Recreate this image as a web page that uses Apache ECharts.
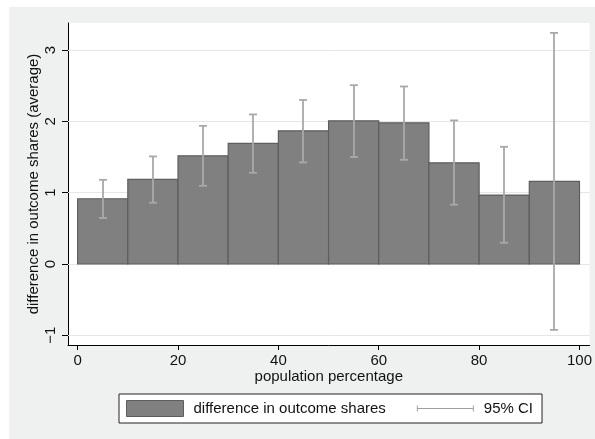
<!DOCTYPE html>
<html>
<head>
<meta charset="utf-8">
<script src="https://cdn.jsdelivr.net/npm/echarts@6/dist/echarts.min.js"></script>
<style>
html,body{margin:0;padding:0;background:#fff;}
#chart{width:595px;height:439px;}
</style>
</head>
<body>
<div id="chart"></div>
<script>
// ---- data ----
const binLower = [0, 10, 20, 30, 40, 50, 60, 70, 80, 90];
const binUpper = [10, 20, 30, 40, 50, 60, 70, 80, 90, 100];
const meanDiff = [0.915, 1.186, 1.517, 1.690, 1.867, 2.007, 1.979, 1.419, 0.966, 1.158];
const ciLower  = [0.644, 0.859, 1.097, 1.279, 1.424, 1.499, 1.461, 0.831, 0.298, -0.924];
const ciUpper  = [1.180, 1.508, 1.937, 2.097, 2.300, 2.507, 2.489, 2.013, 1.643, 3.240];
const xTicks = [0, 20, 40, 60, 80, 100];
const yTicks = [-1, 0, 1, 2, 3];
const xTitle = 'population percentage';
const yTitle = 'difference in outcome shares (average)';
const barName = 'difference in outcome shares';
const ciName = '95% CI';

// ---- styles ----
const FONT = 'Liberation Sans, Arial, Helvetica, sans-serif';
const FS = 15;
const BAR_FILL = '#808080';
const BAR_EDGE = '#5e5e5e';
const CI_COLOR = '#a9a9a9';
const TEXT = '#111';

const barData = binLower.map((l, i) => [l, binUpper[i], meanDiff[i]]);
const ciData = binLower.map((l, i) => [(l + binUpper[i]) / 2, ciLower[i], ciUpper[i]]);

function renderBar(params, api) {
  const p0 = api.coord([api.value(0), api.value(2)]);
  const p1 = api.coord([api.value(1), 0]);
  return {
    type: 'rect',
    shape: { x: p0[0], y: Math.min(p0[1], p1[1]), width: p1[0] - p0[0], height: Math.abs(p1[1] - p0[1]) },
    style: { fill: BAR_FILL, stroke: BAR_EDGE, lineWidth: 1.2 }
  };
}

function renderCI(params, api) {
  const lo = api.coord([api.value(0), api.value(1)]);
  const hi = api.coord([api.value(0), api.value(2)]);
  const x = Math.round(lo[0]);
  const hw = 4;
  const st = { stroke: CI_COLOR, lineWidth: 1.8 };
  return {
    type: 'group',
    children: [
      { type: 'line', shape: { x1: x, y1: lo[1], x2: x, y2: hi[1] }, style: st },
      { type: 'line', shape: { x1: x - hw, y1: lo[1], x2: x + hw, y2: lo[1] }, style: st },
      { type: 'line', shape: { x1: x - hw, y1: hi[1], x2: x + hw, y2: hi[1] }, style: st }
    ]
  };
}

const fmtMinus = v => String(v).replace('-', '\u2212');

const chart = echarts.init(document.getElementById('chart'), null, { renderer: 'canvas' });
chart.setOption({
  animation: false,
  backgroundColor: '#fff',
  textStyle: { fontFamily: FONT },
  graphic: {
    elements: [
      { type: 'rect', z: -100, silent: true, shape: { x: 9, y: 7, width: 586, height: 432 }, style: { fill: '#eff1f1' } }
    ]
  },
  grid: {
    left: 68, right: 3, top: 23, bottom: 94,
    show: true, backgroundColor: '#fff', borderWidth: 0, containLabel: false
  },
  legend: {
    left: 119, top: 394,
    padding: [6, 9, 6, 7],
    itemWidth: 57, itemHeight: 16, itemGap: 31,
    backgroundColor: '#fff', borderColor: '#222', borderWidth: 1, borderRadius: 0,
    textStyle: { fontFamily: FONT, fontSize: FS, color: TEXT, padding: [0, 0, 0, 5] },
    selectedMode: false,
    data: [
      { name: barName, icon: 'rect', itemStyle: { color: BAR_FILL, borderColor: BAR_EDGE, borderWidth: 1 } },
      { name: ciName, icon: 'path://M0,0 M57,16 M0,5 L1,5 L1,11 L0,11 Z M0,7.5 L57,7.5 L57,8.5 L0,8.5 Z M56,5 L57,5 L57,11 L56,11 Z',
        itemStyle: { color: '#a0a0a0', borderWidth: 0 } }
    ]
  },
  xAxis: {
    type: 'value', min: -1.92, max: 102,
    name: xTitle, nameLocation: 'middle', nameGap: 24, nameMoveOverlap: false,
    nameTextStyle: { fontFamily: FONT, fontSize: FS, color: TEXT },
    axisLine: { show: true, onZero: false, lineStyle: { color: '#000', width: 1 } },
    axisTick: { show: true, length: 5, customValues: xTicks, lineStyle: { color: '#000' } },
    axisLabel: { customValues: xTicks, margin: 8, fontFamily: FONT, fontSize: FS, color: TEXT },
    splitLine: { show: false }
  },
  yAxis: {
    type: 'value', min: -1.136, max: 3.379,
    name: yTitle, nameLocation: 'middle', nameGap: 27, nameRotate: 90, nameMoveOverlap: false,
    nameTextStyle: { fontFamily: FONT, fontSize: FS, color: TEXT },
    axisLine: { show: true, onZero: false, lineStyle: { color: '#000', width: 1 } },
    axisTick: { show: true, length: 6, customValues: yTicks, lineStyle: { color: '#000' } },
    axisLabel: { customValues: yTicks, rotate: 90, margin: 10, fontFamily: FONT, fontSize: FS, color: TEXT, formatter: fmtMinus },
    splitLine: { show: false }
  },
  series: [
    {
      type: 'scatter', name: 'grid', data: [], z: 1, silent: true,
      markLine: {
        z: 1, silent: true, symbol: ['none', 'none'], animation: false,
        label: { show: false },
        lineStyle: { color: '#e6e6e6', type: 'solid', width: 1 },
        data: yTicks.map(v => ({ yAxis: v }))
      }
    },
    {
      type: 'custom', name: barName, z: 6,
      renderItem: renderBar,
      encode: { x: [0, 1], y: 2 },
      itemStyle: { color: BAR_FILL, borderColor: BAR_EDGE },
      data: barData
    },
    {
      type: 'custom', name: ciName, z: 7,
      renderItem: renderCI,
      encode: { x: 0, y: [1, 2] },
      itemStyle: { color: '#a0a0a0' },
      data: ciData
    }
  ]
});
</script>
</body>
</html>
